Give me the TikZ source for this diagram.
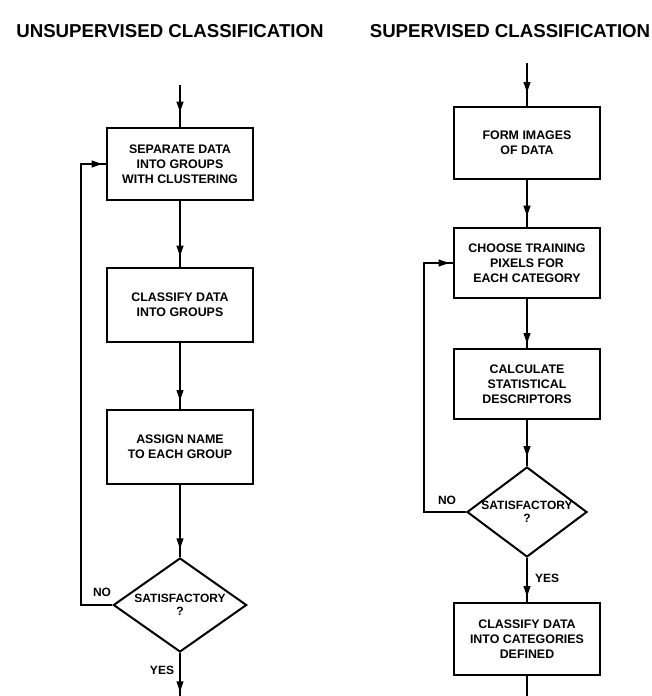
\documentclass[tikz,border=0pt]{standalone}
\usepackage{fontspec}
\setmainfont{Liberation Sans}
\usetikzlibrary{shapes.geometric,arrows.meta,decorations.markings}
\tikzset{
  flow/.style={line width=1.5pt},
  stepbox/.style={draw, line width=1.5pt, minimum width=109pt, minimum height=54pt, inner sep=0pt, align=center, font=\bfseries\fontsize{9.3}{11.2}\selectfont},
  dia/.style={draw, diamond, line width=1.5pt, inner sep=0pt, font=\bfseries\fontsize{9}{10.5}\selectfont},
  lbl/.style={font=\bfseries\fontsize{9}{10}\selectfont, inner sep=0pt},
  ttl/.style={font=\bfseries\fontsize{14}{16}\selectfont, inner sep=0pt},
  arrat/.style={postaction={decorate}, decoration={markings, mark=at position #1 with {\arrow{Triangle[length=8pt,width=5pt]}}}}
}
\begin{document}
\begin{tikzpicture}[x=0.75pt,y=-0.75pt]
\useasboundingbox (0,0) rectangle (652,696);
% titles
\node[ttl] (t1) at (170,31) {UNSUPERVISED CLASSIFICATION};
\node[ttl] (t2) at (510,31) {SUPERVISED CLASSIFICATION};
% left column
\coordinate (s1) at (180,85);
\node[stepbox] (b1) at (180,164) {SEPARATE DATA\\INTO GROUPS\\WITH CLUSTERING};
\node[stepbox, minimum height=55.5pt] (b2) at (180,305) {CLASSIFY DATA\\INTO GROUPS};
\node[stepbox, minimum height=56pt] (b3) at (180,447) {ASSIGN NAME\\TO EACH GROUP};
\node[dia, minimum width=100pt, minimum height=70.5pt] (d1) at (180,605) {\makebox[0pt][c]{\shortstack{SATISFACTORY\\?}}};
\coordinate (l1) at (81,605);
\coordinate (e1) at (180,696);
\draw[flow, arrat=-11pt] (s1) -- (b1.north);
\draw[flow, arrat=-8pt] (b1.south) -- (b2.north);
\draw[flow, arrat=-6pt] (b2.south) -- (b3.north);
\draw[flow, arrat=-6pt] (b3.south) -- (d1.north);
\draw[flow, arrat=-3pt] (d1.west) -- (l1) |- (b1.west);
\draw[flow, arrat=-3pt] (d1.south) -- (e1);
\node[lbl] (no1) at (102,592) {NO};
\node[lbl] (yes1) at (162,670) {YES};
% right column
\coordinate (s2) at (527,63);
\node[stepbox] (r1) at (527,143) {FORM IMAGES\\OF DATA};
\node[stepbox, minimum height=52.5pt] (r2) at (527,263) {CHOOSE TRAINING\\PIXELS FOR\\EACH CATEGORY};
\node[stepbox, minimum height=53pt] (r3) at (527,384) {CALCULATE\\STATISTICAL\\DESCRIPTORS};
\node[dia, minimum width=90pt, minimum height=67.5pt] (d2) at (527,512) {\makebox[0pt][c]{\shortstack{SATISFACTORY\\?}}};
\node[stepbox] (r4) at (527,639) {CLASSIFY DATA\\INTO CATEGORIES\\DEFINED};
\coordinate (l2) at (424,512);
\coordinate (e2) at (527,696);
\draw[flow, arrat=-10pt] (s2) -- (r1.north);
\draw[flow, arrat=-8pt] (r1.south) -- (r2.north);
\draw[flow, arrat=-3pt] (r2.south) -- (r3.north);
\draw[flow, arrat=-7pt] (r3.south) -- (d2.north);
\draw[flow, arrat=-4pt] (d2.south) -- (r4.north);
\draw[flow, arrat=-3pt] (d2.west) -- (l2) |- (r2.west);
\draw[flow] (r4.south) -- (e2);
\node[lbl] (no2) at (447,500) {NO};
\node[lbl] (yes2) at (547,578) {YES};
\end{tikzpicture}
\end{document}
